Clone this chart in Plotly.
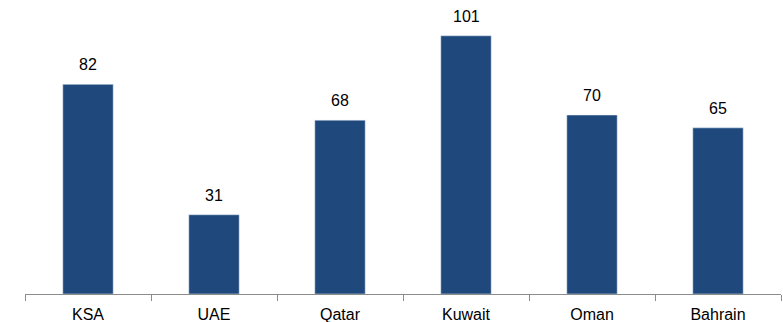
import plotly.graph_objects as go

categories = ["KSA", "UAE", "Qatar", "Kuwait", "Oman", "Bahrain"]
values = [82, 31, 68, 101, 70, 65]

fig = go.Figure()
fig.add_trace(go.Bar(x=categories, y=values, marker_color="#1F497D", width=0.4, hoverinfo="skip"))

for c, v in zip(categories, values):
    fig.add_annotation(x=c, y=v, text=str(v), showarrow=False, yanchor="bottom", yshift=9,
                       font=dict(family="Liberation Sans, Arial", size=16, color="#000"))

fig.update_layout(
    width=783, height=322,
    margin=dict(l=25, r=2, t=0, b=28),
    paper_bgcolor="white", plot_bgcolor="white",
    showlegend=False,
    font=dict(family="Liberation Sans, Arial", size=16, color="#000"),
)
fig.update_xaxes(showline=True, linecolor="#8c8c8c", linewidth=1, ticks="outside", tickson="boundaries",
                 ticklen=6, tickcolor="#8c8c8c", showgrid=False, range=[-0.5, 5.5],
                 ticklabelstandoff=6)
fig.update_yaxes(visible=False, range=[0, 115], showgrid=False)

fig.write_html("out.html")
